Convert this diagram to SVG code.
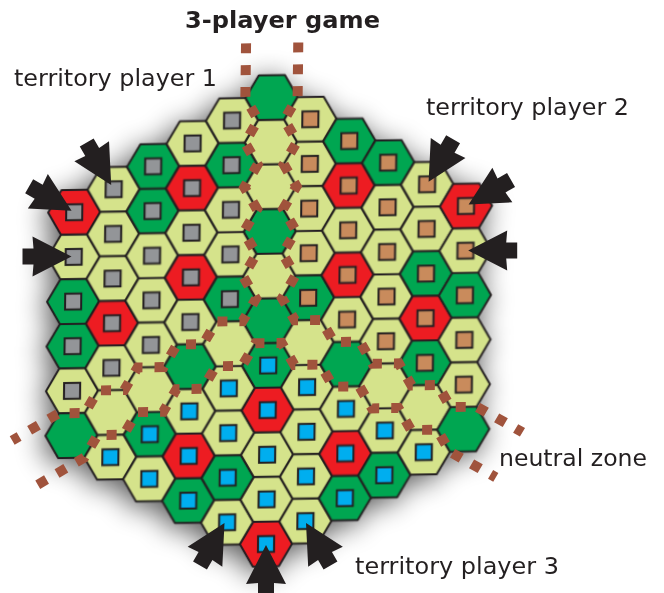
<svg xmlns="http://www.w3.org/2000/svg" xmlns:xlink="http://www.w3.org/1999/xlink" width="664" height="593" viewBox="0 0 664 593">
<style>
.hx{stroke:#231f20;stroke-width:2;stroke-linejoin:round}
.lg{fill:#d5e38b}.dg{fill:#00a651}.r{fill:#ed1c24}
.sq{stroke:#231f20;stroke-width:2}
.g{fill:#939598}.t{fill:#c98b5c}.b{fill:#00aeef}
.nz{fill:none;stroke:#a0533c;stroke-width:10;stroke-dasharray:10 12;stroke-linejoin:miter}
.ar{fill:#231f20}
.lbl{font-family:"DejaVu Sans",Verdana,sans-serif;font-size:23px;fill:#231f20}
.ttl{font-weight:bold}
</style>
<defs>
<polygon id="h" points="26,0 13,22.5 -13,22.5 -26,0 -13,-22.5 13,-22.5"/>
<rect id="s" x="-8" y="-8" width="16" height="16"/>
<path id="ar" d="M0,0 L-39,-20 L-38,-8 L-49,-8 L-49,8 L-38,8 L-39,20 Z"/>
<filter id="sh" x="-25%" y="-25%" width="150%" height="150%">
<feGaussianBlur in="SourceAlpha" stdDeviation="14"/>
<feOffset dx="-4" dy="5" result="o"/>
<feComponentTransfer><feFuncA type="linear" slope="0.65"/></feComponentTransfer>
<feMerge><feMergeNode/><feMergeNode in="SourceGraphic"/></feMerge>
</filter>
</defs>
<rect width="664" height="593" fill="#ffffff"/>
<g transform="matrix(1.0045,-0.016,-0.0122,0.9922,268.75,320.75)">
<g id="cells" filter="url(#sh)">
<g id="c_m5_0" transform="translate(-195,-112.5)"><use href="#h" class="hx r"/><use href="#s" class="sq g"/></g>
<g id="c_m5_1" transform="translate(-195,-67.5)"><use href="#h" class="hx lg"/><use href="#s" class="sq g"/></g>
<g id="c_m5_2" transform="translate(-195,-22.5)"><use href="#h" class="hx dg"/><use href="#s" class="sq g"/></g>
<g id="c_m5_3" transform="translate(-195,22.5)"><use href="#h" class="hx dg"/><use href="#s" class="sq g"/></g>
<g id="c_m5_4" transform="translate(-195,67.5)"><use href="#h" class="hx lg"/><use href="#s" class="sq g"/></g>
<g id="c_m5_5" transform="translate(-195,112.5)"><use href="#h" class="hx dg"/></g>

<g id="c_m4_0" transform="translate(-156,-135)"><use href="#h" class="hx lg"/><use href="#s" class="sq g"/></g>
<g id="c_m4_1" transform="translate(-156,-90)"><use href="#h" class="hx lg"/><use href="#s" class="sq g"/></g>
<g id="c_m4_2" transform="translate(-156,-45)"><use href="#h" class="hx lg"/><use href="#s" class="sq g"/></g>
<g id="c_m4_3" transform="translate(-156,0)"><use href="#h" class="hx r"/><use href="#s" class="sq g"/></g>
<g id="c_m4_4" transform="translate(-156,45)"><use href="#h" class="hx lg"/><use href="#s" class="sq g"/></g>
<g id="c_m4_5" transform="translate(-156,90)"><use href="#h" class="hx lg"/></g>
<g id="c_m4_6" transform="translate(-156,135)"><use href="#h" class="hx lg"/><use href="#s" class="sq b"/></g>

<g id="c_m3_0" transform="translate(-117,-157.5)"><use href="#h" class="hx dg"/><use href="#s" class="sq g"/></g>
<g id="c_m3_1" transform="translate(-117,-112.5)"><use href="#h" class="hx dg"/><use href="#s" class="sq g"/></g>
<g id="c_m3_2" transform="translate(-117,-67.5)"><use href="#h" class="hx lg"/><use href="#s" class="sq g"/></g>
<g id="c_m3_3" transform="translate(-117,-22.5)"><use href="#h" class="hx lg"/><use href="#s" class="sq g"/></g>
<g id="c_m3_4" transform="translate(-117,22.5)"><use href="#h" class="hx lg"/><use href="#s" class="sq g"/></g>
<g id="c_m3_5" transform="translate(-117,67.5)"><use href="#h" class="hx lg"/></g>
<g id="c_m3_6" transform="translate(-117,112.5)"><use href="#h" class="hx dg"/><use href="#s" class="sq b"/></g>
<g id="c_m3_7" transform="translate(-117,157.5)"><use href="#h" class="hx lg"/><use href="#s" class="sq b"/></g>

<g id="c_m2_0" transform="translate(-78,-180)"><use href="#h" class="hx lg"/><use href="#s" class="sq g"/></g>
<g id="c_m2_1" transform="translate(-78,-135)"><use href="#h" class="hx r"/><use href="#s" class="sq g"/></g>
<g id="c_m2_2" transform="translate(-78,-90)"><use href="#h" class="hx lg"/><use href="#s" class="sq g"/></g>
<g id="c_m2_3" transform="translate(-78,-45)"><use href="#h" class="hx r"/><use href="#s" class="sq g"/></g>
<g id="c_m2_4" transform="translate(-78,0)"><use href="#h" class="hx lg"/><use href="#s" class="sq g"/></g>
<g id="c_m2_5" transform="translate(-78,45)"><use href="#h" class="hx dg"/></g>
<g id="c_m2_6" transform="translate(-78,90)"><use href="#h" class="hx lg"/><use href="#s" class="sq b"/></g>
<g id="c_m2_7" transform="translate(-78,135)"><use href="#h" class="hx r"/><use href="#s" class="sq b"/></g>
<g id="c_m2_8" transform="translate(-78,180)"><use href="#h" class="hx dg"/><use href="#s" class="sq b"/></g>

<g id="c_m1_0" transform="translate(-39,-202.5)"><use href="#h" class="hx lg"/><use href="#s" class="sq g"/></g>
<g id="c_m1_1" transform="translate(-39,-157.5)"><use href="#h" class="hx dg"/><use href="#s" class="sq g"/></g>
<g id="c_m1_2" transform="translate(-39,-112.5)"><use href="#h" class="hx lg"/><use href="#s" class="sq g"/></g>
<g id="c_m1_3" transform="translate(-39,-67.5)"><use href="#h" class="hx lg"/><use href="#s" class="sq g"/></g>
<g id="c_m1_4" transform="translate(-39,-22.5)"><use href="#h" class="hx dg"/><use href="#s" class="sq g"/></g>
<g id="c_m1_5" transform="translate(-39,22.5)"><use href="#h" class="hx lg"/></g>
<g id="c_m1_6" transform="translate(-39,67.5)"><use href="#h" class="hx lg"/><use href="#s" class="sq b"/></g>
<g id="c_m1_7" transform="translate(-39,112.5)"><use href="#h" class="hx lg"/><use href="#s" class="sq b"/></g>
<g id="c_m1_8" transform="translate(-39,157.5)"><use href="#h" class="hx dg"/><use href="#s" class="sq b"/></g>
<g id="c_m1_9" transform="translate(-39,202.5)"><use href="#h" class="hx lg"/><use href="#s" class="sq b"/></g>

<g id="c_0_0" transform="translate(0,-225)"><use href="#h" class="hx dg"/></g>
<g id="c_0_1" transform="translate(0,-180)"><use href="#h" class="hx lg"/></g>
<g id="c_0_2" transform="translate(0,-135)"><use href="#h" class="hx lg"/></g>
<g id="c_0_3" transform="translate(0,-90)"><use href="#h" class="hx dg"/></g>
<g id="c_0_4" transform="translate(0,-45)"><use href="#h" class="hx lg"/></g>
<g id="c_0_5" transform="translate(0,0)"><use href="#h" class="hx dg"/></g>
<g id="c_0_6" transform="translate(0,45)"><use href="#h" class="hx dg"/><use href="#s" class="sq b"/></g>
<g id="c_0_7" transform="translate(0,90)"><use href="#h" class="hx r"/><use href="#s" class="sq b"/></g>
<g id="c_0_8" transform="translate(0,135)"><use href="#h" class="hx lg"/><use href="#s" class="sq b"/></g>
<g id="c_0_9" transform="translate(0,180)"><use href="#h" class="hx lg"/><use href="#s" class="sq b"/></g>
<g id="c_0_10" transform="translate(0,225)"><use href="#h" class="hx r"/><use href="#s" class="sq b"/></g>

<g id="c_1_0" transform="translate(39,-202.5)"><use href="#h" class="hx lg"/><use href="#s" class="sq t"/></g>
<g id="c_1_1" transform="translate(39,-157.5)"><use href="#h" class="hx lg"/><use href="#s" class="sq t"/></g>
<g id="c_1_2" transform="translate(39,-112.5)"><use href="#h" class="hx lg"/><use href="#s" class="sq t"/></g>
<g id="c_1_3" transform="translate(39,-67.5)"><use href="#h" class="hx lg"/><use href="#s" class="sq t"/></g>
<g id="c_1_4" transform="translate(39,-22.5)"><use href="#h" class="hx dg"/><use href="#s" class="sq t"/></g>
<g id="c_1_5" transform="translate(39,22.5)"><use href="#h" class="hx lg"/></g>
<g id="c_1_6" transform="translate(39,67.5)"><use href="#h" class="hx lg"/><use href="#s" class="sq b"/></g>
<g id="c_1_7" transform="translate(39,112.5)"><use href="#h" class="hx lg"/><use href="#s" class="sq b"/></g>
<g id="c_1_8" transform="translate(39,157.5)"><use href="#h" class="hx lg"/><use href="#s" class="sq b"/></g>
<g id="c_1_9" transform="translate(39,202.5)"><use href="#h" class="hx lg"/><use href="#s" class="sq b"/></g>

<g id="c_2_0" transform="translate(78,-180)"><use href="#h" class="hx dg"/><use href="#s" class="sq t"/></g>
<g id="c_2_1" transform="translate(78,-135)"><use href="#h" class="hx r"/><use href="#s" class="sq t"/></g>
<g id="c_2_2" transform="translate(78,-90)"><use href="#h" class="hx lg"/><use href="#s" class="sq t"/></g>
<g id="c_2_3" transform="translate(78,-45)"><use href="#h" class="hx r"/><use href="#s" class="sq t"/></g>
<g id="c_2_4" transform="translate(78,0)"><use href="#h" class="hx lg"/><use href="#s" class="sq t"/></g>
<g id="c_2_5" transform="translate(78,45)"><use href="#h" class="hx dg"/></g>
<g id="c_2_6" transform="translate(78,90)"><use href="#h" class="hx lg"/><use href="#s" class="sq b"/></g>
<g id="c_2_7" transform="translate(78,135)"><use href="#h" class="hx r"/><use href="#s" class="sq b"/></g>
<g id="c_2_8" transform="translate(78,180)"><use href="#h" class="hx dg"/><use href="#s" class="sq b"/></g>

<g id="c_3_0" transform="translate(117,-157.5)"><use href="#h" class="hx dg"/><use href="#s" class="sq t"/></g>
<g id="c_3_1" transform="translate(117,-112.5)"><use href="#h" class="hx lg"/><use href="#s" class="sq t"/></g>
<g id="c_3_2" transform="translate(117,-67.5)"><use href="#h" class="hx lg"/><use href="#s" class="sq t"/></g>
<g id="c_3_3" transform="translate(117,-22.5)"><use href="#h" class="hx lg"/><use href="#s" class="sq t"/></g>
<g id="c_3_4" transform="translate(117,22.5)"><use href="#h" class="hx lg"/><use href="#s" class="sq t"/></g>
<g id="c_3_5" transform="translate(117,67.5)"><use href="#h" class="hx lg"/></g>
<g id="c_3_6" transform="translate(117,112.5)"><use href="#h" class="hx lg"/><use href="#s" class="sq b"/></g>
<g id="c_3_7" transform="translate(117,157.5)"><use href="#h" class="hx dg"/><use href="#s" class="sq b"/></g>

<g id="c_4_0" transform="translate(156,-135)"><use href="#h" class="hx lg"/><use href="#s" class="sq t"/></g>
<g id="c_4_1" transform="translate(156,-90)"><use href="#h" class="hx lg"/><use href="#s" class="sq t"/></g>
<g id="c_4_2" transform="translate(156,-45)"><use href="#h" class="hx dg"/><use href="#s" class="sq t"/></g>
<g id="c_4_3" transform="translate(156,0)"><use href="#h" class="hx r"/><use href="#s" class="sq t"/></g>
<g id="c_4_4" transform="translate(156,45)"><use href="#h" class="hx dg"/><use href="#s" class="sq t"/></g>
<g id="c_4_5" transform="translate(156,90)"><use href="#h" class="hx lg"/></g>
<g id="c_4_6" transform="translate(156,135)"><use href="#h" class="hx lg"/><use href="#s" class="sq b"/></g>

<g id="c_5_0" transform="translate(195,-112.5)"><use href="#h" class="hx r"/><use href="#s" class="sq t"/></g>
<g id="c_5_1" transform="translate(195,-67.5)"><use href="#h" class="hx lg"/><use href="#s" class="sq t"/></g>
<g id="c_5_2" transform="translate(195,-22.5)"><use href="#h" class="hx dg"/><use href="#s" class="sq t"/></g>
<g id="c_5_3" transform="translate(195,22.5)"><use href="#h" class="hx lg"/><use href="#s" class="sq t"/></g>
<g id="c_5_4" transform="translate(195,67.5)"><use href="#h" class="hx lg"/><use href="#s" class="sq t"/></g>
<g id="c_5_5" transform="translate(195,112.5)"><use href="#h" class="hx dg"/></g>
</g>
<g id="neutral-zone">
<path class="nz" d="M-26,-280 L-26,-225 L-13,-202.5 L-26,-180 L-13,-157.5 L-26,-135 L-13,-112.5 L-26,-90 L-13,-67.5 L-26,-45 L-13,-22.5 L-26,0 L-52,0 L-65,22.5 L-91,22.5 L-104,45 L-130,45 L-143,67.5 L-169,67.5 L-182,90 L-208,90 L-254,116.5"/>
<path class="nz" d="M26,-280 L26,-225 L13,-202.5 L26,-180 L13,-157.5 L26,-135 L13,-112.5 L26,-90 L13,-67.5 L26,-45 L13,-22.5 L26,0 L52,0 L65,22.5 L91,22.5 L104,45 L130,45 L143,67.5 L169,67.5 L182,90 L208,90 L254,116.5"/>
<path class="nz" d="M-228,161.5 L-182,135 L-169,112.5 L-143,112.5 L-130,90 L-104,90 L-91,67.5 L-65,67.5 L-52,45 L-26,45 L-13,22.5 L13,22.5 L26,45 L52,45 L65,67.5 L91,67.5 L104,90 L130,90 L143,112.5 L169,112.5 L182,135 L228,161.5"/>
</g>
</g>
<g id="arrows">
<use href="#ar" class="ar" transform="translate(111.2,185) rotate(60)"/>
<use href="#ar" class="ar" transform="translate(71.6,210.7) rotate(30)"/>
<use href="#ar" class="ar" transform="translate(71.5,256.5)"/>
<use href="#ar" class="ar" transform="translate(428.6,181.7) rotate(120)"/>
<use href="#ar" class="ar" transform="translate(468.6,204.5) rotate(150)"/>
<use href="#ar" class="ar" transform="translate(468.2,250.5) rotate(180)"/>
<use href="#ar" class="ar" transform="translate(266,545) rotate(-90)"/>
<use href="#ar" class="ar" transform="translate(224.5,523) rotate(-60)"/>
<use href="#ar" class="ar" transform="translate(306,523) rotate(-120)"/>
</g>
<g id="labels">
<text class="lbl ttl" x="185" y="28" textLength="195" lengthAdjust="spacingAndGlyphs">3-player game</text>
<text class="lbl" x="14" y="86" textLength="203" lengthAdjust="spacingAndGlyphs">territory player 1</text>
<text class="lbl" x="426" y="115" textLength="203" lengthAdjust="spacingAndGlyphs">territory player 2</text>
<text class="lbl" x="499" y="466" textLength="148" lengthAdjust="spacingAndGlyphs">neutral zone</text>
<text class="lbl" x="355" y="574" textLength="204" lengthAdjust="spacingAndGlyphs">territory player 3</text>
</g>
</svg>
